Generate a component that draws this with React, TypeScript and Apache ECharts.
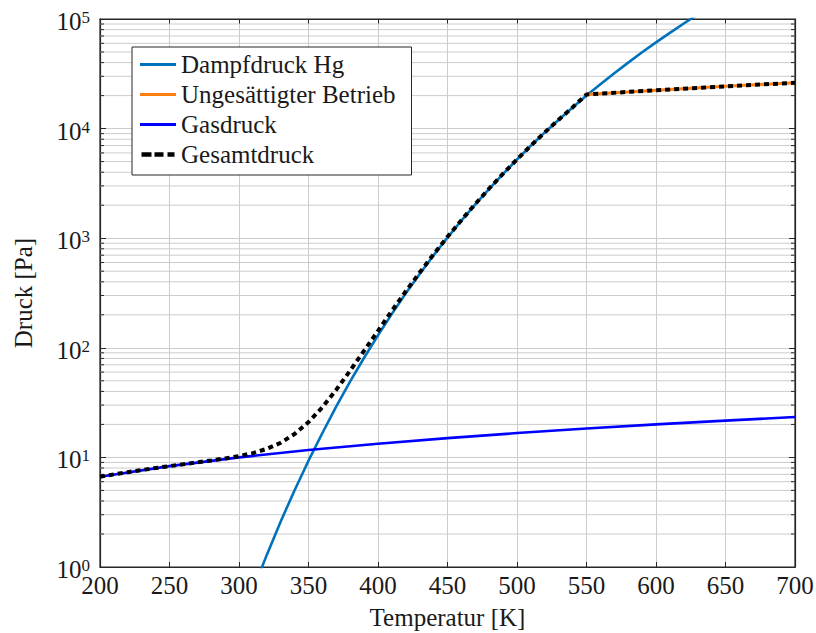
import React, { useEffect, useRef } from "react";
import * as echarts from "echarts";

const FONT = "Liberation Serif";
const TEXT = "#1a1a1a";
const AXIS = "#262626";
const GRIDC = "#cccccc";

// Dampfdruck Hg (vapour pressure of mercury), Pa
const vaporT = [310, 320, 330, 340, 350, 360, 370, 380, 390, 400, 410, 420, 430, 440, 450, 460, 470, 480, 490, 500, 510, 520, 530, 540, 550, 560, 570, 580, 590, 600, 610, 620, 630, 640];
const vaporP = [0.614, 1.29, 2.6, 5.02, 9.33, 16.7, 29.2, 49.3, 81.1, 130, 204, 314, 472, 698, 1014, 1445, 2037, 2825, 3864, 5224, 6982, 9226, 12050, 15600, 20000, 25400, 32000, 40000, 49660, 61200, 74800, 91000, 110000, 132000];

// Ungesättigter Betrieb
const unsatT = [550, 600, 650, 700];
const unsatP = [20500, 22400, 24300, 26200];

// Gasdruck
const gasT = [200, 250, 300, 350, 400, 450, 500, 550, 600, 650, 700];
const gasP = [6.67, 8.33, 10, 11.67, 13.33, 15, 16.67, 18.33, 20, 21.67, 23.33];

// Gesamtdruck
const totalT = [200, 210, 220, 230, 240, 250, 260, 270, 280, 290, 300, 310, 320, 330, 340, 350, 360, 370, 380, 390, 400, 410, 420, 430, 440, 450, 460, 470, 480, 490, 500, 510, 520, 530, 540, 550, 600, 650, 700];
const totalP = [6.67, 7.0, 7.33, 7.67, 8.0, 8.33, 8.67, 9.02, 9.38, 9.79, 10.28, 10.95, 11.96, 13.6, 16.35, 21.0, 28.7, 41.5, 62.0, 94.1, 143, 218, 328, 486, 713, 1029, 1460, 2053, 2841, 3880, 5241, 7000, 9243, 12068, 15618, 20500, 22400, 24300, 26200];

const xTicks = { min: 200, max: 700, interval: 50 };
const yRange = { min: 1, max: 100000 };
const decades = [1, 10, 100, 1000, 10000];
const minorMult = [2, 3, 4, 5, 6, 7, 8, 9];

const names = ["Dampfdruck Hg", "Ungesättigter Betrieb", "Gasdruck", "Gesamtdruck"];

const SOLID_ICON = "path://M0,0.5H36V3.5H0Z";
const DASH_ICON = "path://M0,0H10V4.5H0Z M13,0H22V4.5H13Z M26,0H33V4.5H26Z";

const zip = (a: number[], b: number[]) => a.map((v, i) => [v, b[i]]);

export default function App() {
  const ref = useRef<HTMLDivElement>(null);
  useEffect(() => {
    if (!ref.current) return;
    const chart = echarts.init(ref.current, null, { renderer: "svg" });
    const minorVals: number[][] = [];
    decades.forEach((d) => minorMult.forEach((m) => minorVals.push([xTicks.min, d * m])));

    const option: any = {
      animation: false,
      backgroundColor: "#ffffff",
      grid: {
        left: 100, right: 21, top: 19, bottom: 66,
        containLabel: false, outerBoundsMode: "none",
        show: true, borderColor: AXIS, borderWidth: 1.2, backgroundColor: "transparent",
      },
      legend: {
        orient: "vertical",
        left: 132, top: 47,
        backgroundColor: "#ffffff",
        borderColor: AXIS, borderWidth: 1,
        padding: [5, 16, 8, 8],
        itemGap: 5, itemWidth: 36, itemHeight: 4.5,
        textStyle: { fontFamily: FONT, fontSize: 25, color: TEXT },
        data: [
          { name: names[0], icon: SOLID_ICON },
          { name: names[1], icon: SOLID_ICON },
          { name: names[2], icon: SOLID_ICON },
          { name: names[3], icon: DASH_ICON },
        ],
      },
      xAxis: [
        {
          type: "value", ...xTicks, position: "bottom",
          name: "Temperatur [K]", nameLocation: "middle", nameGap: 38,
          nameTextStyle: { fontFamily: FONT, fontSize: 25, color: TEXT },
          axisLine: { show: true, lineStyle: { color: AXIS, width: 1.2 } },
          axisTick: { show: true, inside: true, length: 5, lineStyle: { color: AXIS } },
          axisLabel: { fontFamily: FONT, fontSize: 25, color: TEXT, margin: 6 },
          splitLine: { show: true, lineStyle: { color: GRIDC, width: 1 } },
        },
        {
          type: "value", ...xTicks, position: "top",
          axisLine: { show: true, lineStyle: { color: AXIS, width: 1.2 } },
          axisTick: { show: true, inside: true, length: 5, lineStyle: { color: AXIS } },
          axisLabel: { show: false },
          splitLine: { show: false },
        },
      ],
      yAxis: [
        {
          type: "log", logBase: 10, ...yRange, position: "left",
          name: "Druck [Pa]", nameLocation: "middle", nameGap: 64,
          nameTextStyle: { fontFamily: FONT, fontSize: 25, color: TEXT },
          axisLine: { show: true, lineStyle: { color: AXIS, width: 1.2 } },
          axisTick: { show: true, inside: true, length: 6, lineStyle: { color: AXIS } },
          axisLabel: {
            margin: 10,
            fontFamily: FONT,
            fontSize: 25,
            color: TEXT,
            padding: [5, 0, 0, 0],
            formatter: (v: number) => `{b|10}{s|${Math.round(Math.log10(v))}}`,
            rich: {
              b: { fontFamily: FONT, fontSize: 25, color: TEXT },
              s: { fontFamily: FONT, fontSize: 17, color: TEXT, verticalAlign: "top" },
            },
          },
          splitLine: { show: true, lineStyle: { color: GRIDC, width: 1 } },
        },
        {
          type: "log", logBase: 10, ...yRange, position: "right",
          axisLine: { show: true, lineStyle: { color: AXIS, width: 1.2 } },
          axisTick: { show: true, inside: true, length: 6, lineStyle: { color: AXIS } },
          axisLabel: { show: false },
          splitLine: { show: false },
        },
      ],
      series: [
        {
          type: "custom",
          silent: true,
          z: 1,
          xAxisIndex: 0, yAxisIndex: 0,
          clip: false,
          data: minorVals,
          renderItem: (params: any, api: any) => {
            const v = api.value(1);
            const p0 = api.coord([xTicks.min, v]);
            const p1 = api.coord([xTicks.max, v]);
            return {
              type: "group",
              children: [
                { type: "line", shape: { x1: p0[0], y1: p0[1], x2: p1[0], y2: p1[1] }, style: { stroke: GRIDC, lineWidth: 1 } },
                { type: "line", shape: { x1: p0[0], y1: p0[1], x2: p0[0] + 4, y2: p0[1] }, style: { stroke: AXIS, lineWidth: 1 } },
                { type: "line", shape: { x1: p1[0] - 4, y1: p1[1], x2: p1[0], y2: p1[1] }, style: { stroke: AXIS, lineWidth: 1 } },
              ],
            };
          },
        },
        {
          name: names[0], type: "line", data: zip(vaporT, vaporP), symbol: "none", z: 3,
          lineStyle: { color: "#0072BD", width: 2.6 }, itemStyle: { color: "#0072BD" },
        },
        {
          name: names[1], type: "line", data: zip(unsatT, unsatP), symbol: "none", z: 4,
          lineStyle: { color: "#FF7F0E", width: 3 }, itemStyle: { color: "#FF7F0E" },
        },
        {
          name: names[2], type: "line", data: zip(gasT, gasP), symbol: "none", z: 5,
          lineStyle: { color: "#0000FF", width: 2.6 }, itemStyle: { color: "#0000FF" },
        },
        {
          name: names[3], type: "line", data: zip(totalT, totalP), symbol: "none", z: 6,
          lineStyle: { color: "#000000", width: 4, type: [5, 4] }, itemStyle: { color: "#000000" },
        },
      ],
    };
    chart.setOption(option);
    return () => chart.dispose();
  }, []);
  return <div ref={ref} style={{ position: "fixed", left: 0, top: 0, width: 816, height: 633, background: "#fff" }} />;
}
